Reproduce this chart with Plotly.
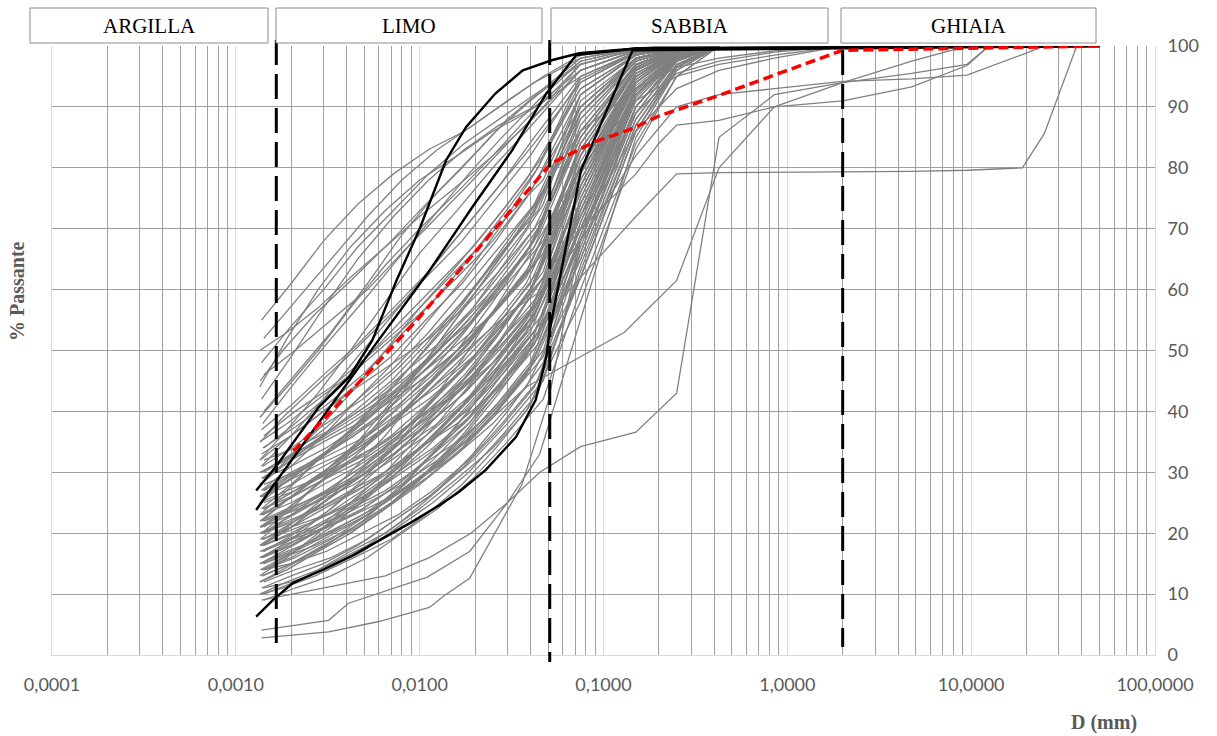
import plotly.graph_objects as go

# ---------------------------------------------------------------------------
# Diametri (mm) delle letture per sedimentazione (cinque serie di prove)
HYD_D_A = [0.00138, 0.0020, 0.0030, 0.0046, 0.0072, 0.0112, 0.0175, 0.027, 0.042]
HYD_D_B = [0.00142, 0.0021, 0.0033, 0.0052, 0.0080, 0.0125, 0.0195, 0.030, 0.047]
HYD_D_C = [0.00135, 0.0019, 0.0028, 0.0042, 0.0065, 0.0100, 0.0160, 0.025, 0.038]
HYD_D_D = [0.00140, 0.0020, 0.0031, 0.0049, 0.0076, 0.0118, 0.0185, 0.028, 0.044]
HYD_D_E = [0.00136, 0.0018, 0.0027, 0.0044, 0.0070, 0.0108, 0.0170, 0.026, 0.040]
# Setacci (mm)
SIEVE_D = [0.075, 0.15, 0.25, 0.425]
SIEVE_D_LONG = [0.075, 0.15, 0.25, 0.425, 0.85, 2.0]

# Percentuale passante: 9 letture di sedimentazione + setacci
SAMPLES_A = [
    [55, 61, 68, 74, 79, 83, 86, 90, 94, 98, 99.6, 100, 100],
    [48, 54, 60, 67, 73, 79, 84, 88, 92, 97, 99.4, 100, 100],
    [42, 49, 57, 65, 72, 78, 83, 87, 90, 96, 99.2, 99.8, 100],
    [37, 41, 46, 51, 57, 63, 70, 77, 85, 95, 99, 99.8, 100],
    [33, 36, 40, 44, 48, 52, 57, 63, 70, 86, 97, 99.5, 100],
    [31, 36, 42, 49, 56, 63, 70, 77, 84, 94, 98.8, 99.7, 100],
    [29, 32, 35, 38, 42, 46, 51, 57, 64, 80, 95, 99, 100],
    [27, 31, 36, 42, 48, 55, 62, 70, 79, 93, 98.5, 99.6, 100],
    [26, 28, 31, 34, 38, 42, 47, 53, 61, 78, 94, 98.8, 100],
    [24, 28, 33, 38, 44, 51, 58, 66, 74, 90, 98, 99.5, 100],
    [23, 25, 28, 31, 35, 39, 44, 50, 57, 74, 93, 98.5, 100],
    [22, 26, 30, 35, 40, 46, 53, 60, 68, 86, 97, 99.4, 100],
    [21, 23, 26, 29, 33, 38, 43, 49, 56, 72, 92, 98.2, 100],
    [20, 24, 29, 35, 42, 49, 57, 65, 73, 89, 98, 99.5, 100],
    [19, 21, 24, 27, 31, 35, 40, 46, 53, 70, 91, 98, 100],
    [18, 21, 25, 29, 34, 40, 46, 53, 61, 80, 95, 99, 100],
    [17, 19, 22, 25, 29, 33, 38, 44, 51, 68, 90, 97.5, 100],
    [16, 19, 23, 28, 34, 41, 49, 58, 67, 85, 97, 99.3, 100],
    [14, 16, 19, 22, 26, 30, 35, 41, 48, 65, 88, 97, 100],
    [13, 15, 18, 21, 25, 30, 36, 43, 51, 70, 92, 98, 100],
    [11, 13, 15, 18, 22, 26, 31, 37, 44, 62, 86, 96, 100],
]
SAMPLES_B = [
    [52, 58, 65, 72, 78, 83, 87, 91, 95, 98.5, 99.7, 100, 100],
    [46, 50, 55, 60, 66, 72, 78, 84, 90, 97, 99.5, 100, 100],
    [40, 46, 53, 61, 69, 76, 82, 88, 93, 98, 99.6, 100, 100],
    [36, 40, 44, 49, 54, 60, 66, 72, 78, 92, 98.5, 99.7, 100],
    [34, 38, 43, 49, 55, 61, 67, 74, 82, 95, 99, 99.8, 100],
    [32, 34, 37, 41, 45, 50, 55, 61, 68, 84, 96, 99.2, 100],
    [30, 33, 37, 41, 46, 51, 57, 64, 72, 89, 97.5, 99.5, 100],
    [28, 30, 33, 36, 40, 44, 49, 55, 62, 79, 94, 98.8, 100],
    [27, 30, 34, 39, 44, 50, 57, 65, 74, 91, 98, 99.6, 100],
    [25, 27, 30, 33, 37, 41, 46, 52, 59, 77, 94, 98.7, 100],
    [24, 27, 31, 35, 40, 46, 52, 59, 66, 84, 96.5, 99.3, 100],
    [22, 24, 27, 30, 34, 38, 43, 49, 56, 75, 93, 98.5, 100],
    [21, 25, 30, 36, 43, 51, 59, 67, 76, 92, 98.5, 99.7, 100],
    [20, 22, 25, 28, 32, 36, 41, 47, 54, 73, 92, 98.3, 100],
    [19, 22, 26, 30, 35, 40, 46, 53, 60, 79, 95, 99, 100],
    [18, 20, 22, 25, 28, 32, 37, 43, 50, 69, 90, 97.8, 100],
    [17, 20, 24, 29, 34, 40, 47, 55, 63, 82, 96, 99.2, 100],
    [15, 17, 20, 23, 27, 31, 36, 42, 49, 67, 89, 97.5, 100],
    [14, 17, 21, 26, 32, 38, 45, 53, 62, 81, 95.5, 99, 100],
    [12, 14, 16, 19, 23, 27, 32, 38, 45, 64, 87, 96.5, 100],
    [10, 12, 15, 18, 22, 27, 33, 40, 48, 68, 90, 97.5, 100],
    [9, 11, 13, 16, 20, 24, 29, 35, 42, 60, 84, 95, 100],
]
SAMPLES_C = [
    [50, 53, 57, 62, 67, 72, 77, 82, 87, 96, 99.3, 99.9, 100],
    [44, 52, 60, 67, 73, 78, 82, 86, 89, 95, 99, 99.8, 100],
    [39, 44, 50, 57, 64, 70, 76, 82, 88, 97, 99.4, 100, 100],
    [35, 38, 42, 46, 51, 56, 62, 68, 75, 90, 98, 99.6, 100],
    [32, 37, 43, 50, 58, 66, 73, 80, 86, 96, 99.2, 99.8, 100],
    [30, 32, 35, 38, 42, 46, 51, 56, 62, 80, 95, 99, 100],
    [28, 32, 37, 43, 50, 57, 64, 71, 78, 93, 98.6, 99.6, 100],
    [26, 29, 32, 36, 40, 45, 50, 56, 63, 82, 96, 99.2, 100],
    [25, 27, 29, 32, 35, 39, 43, 48, 54, 72, 92, 98.4, 100],
    [23, 27, 32, 37, 43, 49, 56, 63, 70, 88, 97.5, 99.5, 100],
    [22, 24, 26, 29, 33, 37, 42, 48, 55, 76, 94, 98.8, 100],
    [21, 24, 28, 32, 37, 42, 48, 54, 61, 80, 95.5, 99, 100],
    [20, 22, 24, 27, 30, 34, 38, 43, 49, 68, 90, 97.8, 100],
    [18, 21, 25, 30, 36, 43, 50, 58, 66, 85, 97, 99.4, 100],
    [17, 19, 21, 24, 27, 31, 35, 40, 46, 65, 88, 97, 100],
    [16, 18, 21, 25, 29, 34, 40, 46, 53, 73, 93, 98.5, 100],
    [15, 17, 19, 22, 25, 29, 33, 38, 44, 62, 86, 96.5, 100],
    [13, 16, 20, 25, 30, 36, 43, 50, 58, 78, 95, 99, 100],
    [12, 14, 17, 20, 24, 28, 33, 39, 46, 66, 90, 98, 100],
    [10, 12, 14, 17, 20, 24, 29, 34, 40, 58, 83, 95, 100],
]
SAMPLES_D = [
    [38, 44, 51, 58, 65, 72, 79, 85, 91, 97.5, 99.6, 100, 100],
    [34, 37, 41, 46, 52, 58, 65, 72, 80, 94, 99, 99.8, 100],
    [31, 34, 38, 42, 47, 53, 59, 66, 73, 90, 98, 99.6, 100],
    [29, 31, 34, 38, 43, 48, 54, 61, 69, 87, 97.5, 99.5, 100],
    [27, 30, 33, 37, 41, 46, 52, 58, 65, 83, 96, 99.2, 100],
    [26, 29, 33, 38, 43, 49, 55, 62, 70, 88, 97.5, 99.5, 100],
    [24, 26, 29, 32, 36, 41, 46, 52, 58, 76, 93.5, 98.6, 100],
    [23, 26, 30, 34, 39, 45, 51, 58, 65, 84, 96.5, 99.3, 100],
    [22, 24, 27, 31, 35, 40, 45, 51, 58, 77, 94, 98.8, 100],
    [20, 23, 27, 31, 36, 42, 48, 55, 63, 82, 96, 99.2, 100],
    [19, 21, 23, 26, 30, 34, 39, 45, 52, 71, 91.5, 98.2, 100],
    [18, 20, 23, 27, 31, 36, 42, 49, 57, 77, 94.5, 98.9, 100],
    [17, 19, 21, 24, 28, 33, 38, 44, 51, 71, 92, 98.3, 100],
    [16, 18, 21, 24, 28, 33, 39, 46, 54, 75, 94, 98.8, 100],
    [15, 17, 20, 23, 27, 32, 38, 45, 53, 74, 93, 98.6, 100],
    [14, 15, 17, 20, 23, 27, 32, 38, 45, 66, 89, 97.5, 100],
    [13, 15, 18, 22, 27, 33, 40, 48, 57, 77, 95, 99, 100],
    [11, 12, 14, 17, 21, 25, 30, 36, 43, 63, 87, 96.8, 100],
]
SAMPLES_E = [
    [45, 50, 56, 62, 68, 74, 80, 86, 91, 97.5, 99.6, 100, 100],
    [35, 39, 44, 50, 56, 62, 68, 75, 82, 94.5, 99, 99.8, 100],
    [32, 35, 39, 44, 49, 55, 61, 68, 76, 92, 98.5, 99.7, 100],
    [30, 32, 35, 39, 43, 48, 54, 60, 67, 85, 96.8, 99.4, 100],
    [28, 31, 35, 40, 45, 51, 58, 65, 72, 89, 97.8, 99.6, 100],
    [26, 28, 31, 34, 38, 43, 48, 54, 61, 80, 95, 99, 100],
    [25, 28, 32, 36, 41, 47, 53, 60, 67, 86, 97, 99.4, 100],
    [23, 25, 28, 32, 36, 41, 47, 53, 60, 79, 95, 99, 100],
    [22, 25, 29, 33, 38, 44, 50, 57, 64, 83, 96.2, 99.2, 100],
    [21, 23, 25, 28, 32, 36, 41, 47, 54, 74, 93, 98.5, 100],
    [19, 22, 25, 29, 34, 39, 45, 52, 60, 80, 95.5, 99.1, 100],
    [18, 20, 22, 25, 29, 34, 40, 46, 53, 73, 92.5, 98.4, 100],
    [16, 18, 20, 23, 26, 30, 35, 41, 48, 69, 91, 98, 100],
    [15, 17, 20, 24, 29, 35, 41, 48, 56, 76, 94.5, 98.9, 100],
    [14, 16, 18, 21, 25, 29, 34, 40, 47, 68, 90, 97.8, 100],
    [12, 14, 17, 21, 25, 30, 36, 43, 51, 72, 93, 98.5, 100],
    [10, 11, 13, 16, 19, 23, 28, 34, 41, 62, 86, 96.5, 100],
]
# Campioni con coda sabbiosa fino a 2 mm (letture su HYD_D_A + SIEVE_D_LONG)
SAMPLES_F = [
    [26, 29, 33, 38, 43, 49, 55, 61, 67, 80, 91, 95, 97, 98.5, 100],
    [20, 22, 25, 29, 33, 38, 43, 49, 55, 70, 86, 93, 96, 98, 100],
    [16, 18, 21, 25, 30, 35, 41, 47, 53, 72, 89, 95.5, 97.5, 99, 100],
    [30, 33, 37, 42, 47, 53, 60, 67, 74, 86, 93, 96.5, 98, 99.2, 100],
]

# Campioni con frazione grossolana / curve singolari
LOW1_D = [0.00138, 0.0032, 0.0060, 0.0113, 0.0137, 0.0187, 0.025, 0.036, 0.050, 0.075, 0.15, 0.25, 0.425]
LOW1_P = [2.8, 3.8, 5.5, 7.8, 9.8, 12.6, 19.4, 28, 41.6, 68, 92, 98, 100]
LOW2_D = [0.00138, 0.0032, 0.0041, 0.0110, 0.0187, 0.030, 0.045, 0.075, 0.15, 0.25, 0.425]
LOW2_P = [4.1, 5.7, 8.5, 12.8, 17, 25, 33, 55, 85, 96, 100]
COARSE1_D = HYD_D_B + [0.075, 0.15, 0.25, 0.425, 2, 4.75, 9.5, 19, 25, 37.5]
COARSE1_P = [14, 16, 19, 23, 28, 34, 41, 48, 55, 62, 72, 79, 79.2, 79.3, 79.4, 79.6, 80, 85.6, 100]
COARSE2_D = HYD_D_A + [0.075, 0.15, 0.2, 0.25, 0.425, 0.85, 2, 4.75, 9.5, 12.5]
COARSE2_P = [18, 21, 25, 30, 35, 41, 47, 54, 60, 70, 79, 84, 87, 87.8, 90, 91, 93.3, 96.8, 100]
COARSE3_D = [0.00138, 0.003, 0.0065, 0.0113, 0.019, 0.030, 0.045, 0.075, 0.15, 0.25, 0.425, 0.85, 2, 4.75, 9.5, 12.5]
COARSE3_P = [9, 11, 13, 16, 20, 25, 30, 34.2, 36.6, 43, 85, 92, 94, 95.5, 97, 100]
COARSE4_D = HYD_D_C + [0.075, 0.13, 0.25, 0.425, 0.85, 2, 4.75, 9.5]
COARSE4_P = [12, 14, 17, 20, 24, 29, 34, 39, 44, 49, 53, 61.5, 80, 90, 94, 97.5, 100]
COARSE5_D = HYD_D_B + [0.075, 0.15, 0.25, 0.425, 0.85, 2, 4.75, 9.5, 19, 25]
COARSE5_P = [24, 27, 31, 36, 41, 46, 51, 56, 60, 68, 82, 90, 92, 93, 94.2, 94.6, 95.2, 98.6, 100]

# Fuso granulometrico (curve limite) e curva di riferimento
ENV_UP_D = [0.00129, 0.00165, 0.00284, 0.00415, 0.00553, 0.00748, 0.0100, 0.0139, 0.0179, 0.0258, 0.0364, 0.0528, 0.0736, 0.150, 50]
ENV_UP_P = [27, 30.9, 40.8, 45.7, 51.7, 61.5, 70, 81.2, 86.7, 92.2, 96, 97.7, 98.8, 99.6, 100]
ENV_MID_D = [0.00129, 0.00165, 0.00553, 0.0113, 0.0194, 0.0319, 0.0489, 0.0710, 0.150, 50]
ENV_MID_P = [23.8, 28.4, 50.3, 63.1, 73.6, 82.9, 92.2, 98.5, 99.6, 100]
ENV_LOW_D = [0.00129, 0.00159, 0.00204, 0.00297, 0.00435, 0.00630, 0.00914, 0.0128, 0.0164,
             0.0229, 0.0334, 0.0428, 0.0489, 0.0509, 0.0577, 0.0754, 0.144, 50]
ENV_LOW_P = [6.3, 9.0, 11.8, 14.0, 16.4, 19.2, 21.9, 24.6, 26.8, 30.4, 35.8, 41.9, 49, 53.3, 61.5, 79.6, 99.3, 100]
REF_D = [0.00206, 0.0032, 0.0055, 0.0100, 0.0211, 0.0318, 0.0518, 0.090, 0.14, 0.20, 0.40, 1.0, 2.0, 50]
REF_P = [33.5, 39.5, 47, 55.5, 67, 73.4, 80.7, 84.3, 86.3, 88.5, 91.6, 96, 99.3, 100]

# Limiti delle classi granulometriche (mm)
CLASS_LIMITS = [0.00166, 0.051, 2.0]
CLASS_NAMES = ["ARGILLA", "LIMO", "SABBIA", "GHIAIA"]

X_TICKS = [0.0001, 0.001, 0.01, 0.1, 1, 10, 100]
X_TICK_TEXT = ["0,0001", "0,0010", "0,0100", "0,1000", "1,0000", "10,0000", "100,0000"]
Y_TICKS = [0, 10, 20, 30, 40, 50, 60, 70, 80, 90, 100]

# ---------------------------------------------------------------------------
W, H = 1217, 736
L, R, T, B = 52, 62, 46, 81
PW, PH = W - L - R, H - T - B


def px(xpix):
    return (xpix - L) / PW


def py(ypix):
    return (H - B - ypix) / PH


GREY = "#808080"
fig = go.Figure()


def add_curve(d, p, color=GREY, width=1.3, dash=None):
    fig.add_trace(go.Scatter(x=d, y=p, mode="lines",
                             line=dict(color=color, width=width, dash=dash),
                             hoverinfo="skip", showlegend=False))


for grid, group in ((HYD_D_A, SAMPLES_A), (HYD_D_B, SAMPLES_B), (HYD_D_C, SAMPLES_C),
                    (HYD_D_D, SAMPLES_D), (HYD_D_E, SAMPLES_E)):
    for vals in group:
        add_curve(grid + SIEVE_D, vals)
for vals in SAMPLES_F:
    add_curve(HYD_D_A + SIEVE_D_LONG, vals)

for d, p in ((LOW1_D, LOW1_P), (LOW2_D, LOW2_P), (COARSE1_D, COARSE1_P),
             (COARSE2_D, COARSE2_P), (COARSE3_D, COARSE3_P),
             (COARSE4_D, COARSE4_P), (COARSE5_D, COARSE5_P)):
    add_curve(d, p)

for d, p in ((ENV_UP_D, ENV_UP_P), (ENV_MID_D, ENV_MID_P), (ENV_LOW_D, ENV_LOW_P)):
    add_curve(d, p, color="#000000", width=2.4)

add_curve(REF_D, REF_P, color="#ff0000", width=3.5, dash="10px,5px")

# Linee di separazione delle classi
shapes = []
for lim, (top, bot) in zip(CLASS_LIMITS, ((40, 647), (40, 662), (50, 647))):
    shapes.append(dict(type="line", xref="x", yref="paper", x0=lim, x1=lim,
                       y0=py(top), y1=py(bot), layer="above",
                       line=dict(color="#000000", width=3, dash="25px,9px")))

# Riquadri con i nomi delle classi
BOXES = [(30, 268), (276, 542), (551, 828), (841, 1096)]
annotations = []
for name, (x0, x1) in zip(CLASS_NAMES, BOXES):
    shapes.append(dict(type="rect", xref="paper", yref="paper",
                       x0=px(x0), x1=px(x1), y0=py(43), y1=py(8),
                       fillcolor="#ffffff", line=dict(color="#8c8c8c", width=1),
                       layer="above"))
    annotations.append(dict(text=name, xref="paper", yref="paper",
                            x=px((x0 + x1) / 2), y=py(26), showarrow=False,
                            xanchor="center", yanchor="middle",
                            font=dict(family="Liberation Serif", size=21, color="#000000")))

annotations.append(dict(text="<b>% Passante</b>", xref="paper", yref="paper",
                        x=px(17), y=py(291), textangle=-90, showarrow=False,
                        xanchor="center", yanchor="middle",
                        font=dict(family="Liberation Serif", size=20, color="#595959")))
annotations.append(dict(text="<b>D (mm)</b>", xref="paper", yref="paper",
                        x=px(1104), y=py(722), showarrow=False,
                        xanchor="center", yanchor="middle",
                        font=dict(family="Liberation Serif", size=20, color="#595959")))

MINOR = [m * 10.0 ** e for e in range(-4, 2) for m in range(2, 10)]
TICKFONT = dict(family="Lato", size=18, color="#595959")

fig.update_xaxes(type="log", range=[-4, 2], tickvals=X_TICKS, ticktext=X_TICK_TEXT,
                 showgrid=True, gridcolor="#d9d9d9", gridwidth=1,
                 minor=dict(tickvals=MINOR, showgrid=True, gridcolor="#a0a0a0", gridwidth=1, ticks=""),
                 showline=True, linecolor="#d9d9d9", linewidth=1, ticks="",
                 tickfont=TICKFONT, zeroline=False, ticklabelstandoff=13)
fig.update_yaxes(range=[0, 100], side="right", tickvals=Y_TICKS,
                 showgrid=True, gridcolor="#a0a0a0", gridwidth=1,
                 showline=True, mirror=True, linecolor="#d9d9d9", linewidth=1,
                 ticks="", tickfont=TICKFONT, zeroline=False, ticklabelstandoff=8)

fig.update_layout(width=W, height=H, margin=dict(l=L, r=R, t=T, b=B),
                  paper_bgcolor="#ffffff", plot_bgcolor="#ffffff",
                  shapes=shapes, annotations=annotations, showlegend=False)

fig.write_html("out.html")
